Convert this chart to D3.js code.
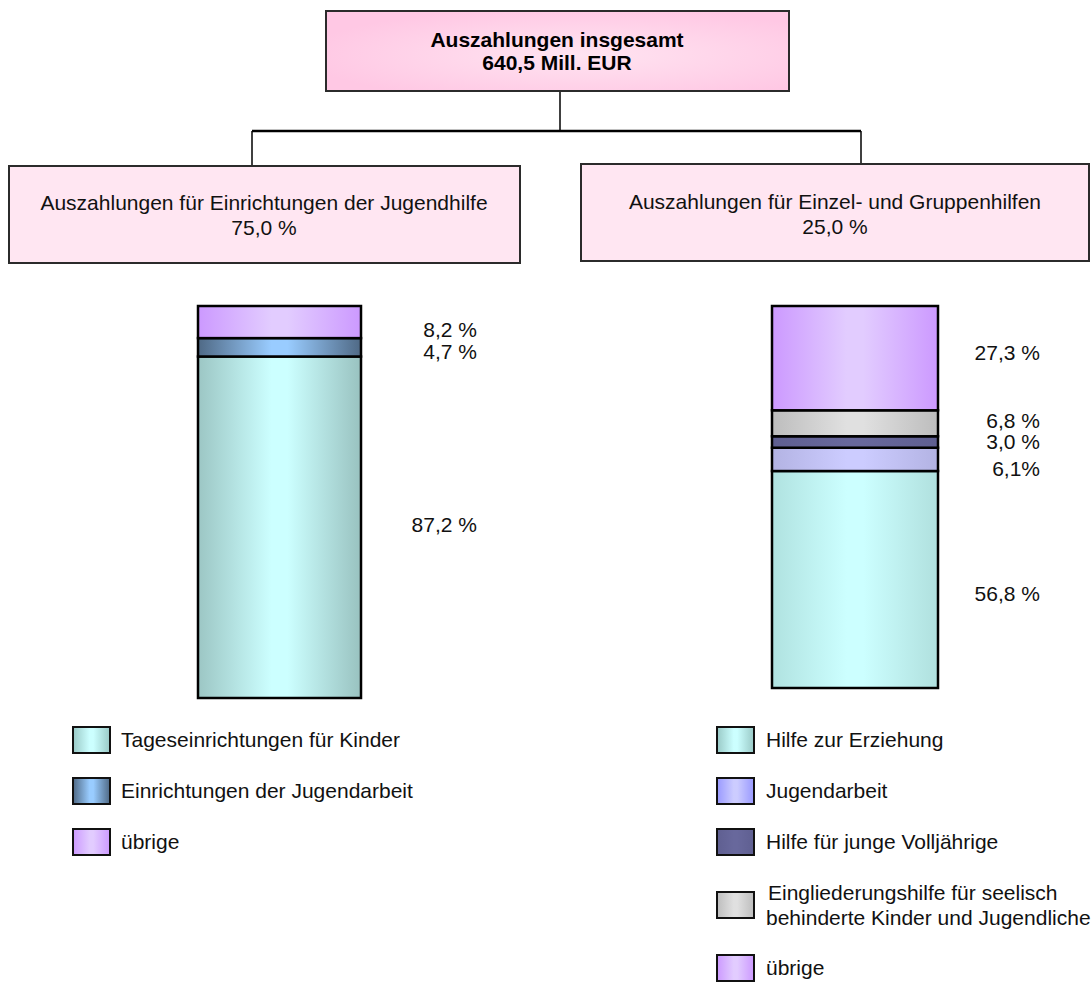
<!DOCTYPE html>
<html><head><meta charset="utf-8">
<script src="https://cdn.jsdelivr.net/npm/d3@7"></script>
<style>body{margin:0;background:#fff}svg{display:block;font-family:"Liberation Sans",Arial,sans-serif}</style>
</head><body><svg id="c" width="1091" height="983"></svg>
<script>
// ---------- data ----------
const totalTitle = ["Auszahlungen insgesamt", "640,5 Mill. EUR"];
const groupTitles = ["Auszahlungen für Einrichtungen der Jugendhilfe", "Auszahlungen für Einzel- und Gruppenhilfen"];
const groupShares = ["75,0 %", "25,0 %"];

const leftCategories = ["Tageseinrichtungen für Kinder", "Einrichtungen der Jugendarbeit", "übrige"];
const leftValues = [87.2, 4.7, 8.2];
const leftLabels = ["87,2 %", "4,7 %", "8,2 %"];

const rightCategories = ["Hilfe zur Erziehung", "Jugendarbeit", "Hilfe für junge Volljährige",
  "Eingliederungshilfe für seelisch\nbehinderte Kinder und Jugendliche", "übrige"];
const rightValues = [56.8, 6.1, 3.0, 6.8, 27.3];
const rightLabels = ["56,8 %", "6,1%", "3,0 %", "6,8 %", "27,3 %"];

// ---------- styles ----------
const gradDefs = {
  tealL: ["#9cc6c4", "#ccffff", "#99c2c0"],
  tealR: ["#b0e2e0", "#ccffff", "#b0e0de"],
  jaL:   ["#4f6985", "#99ccff", "#4f6985"],
  violet:["#cc99ff", "#e2ccff", "#cc99ff"],
  grey:  ["#bdbdbd", "#e0e0e0", "#bdbdbd"],
  dark:  ["#5f5f91", "#68689c", "#5f5f91"],
  jaR:   ["#b3b3e3", "#ccccff", "#b3b3e3"],
  jaLeg: ["#9999ff", "#ccccff", "#9999ff"],
  tealLeg: ["#99c9c6", "#ccffff", "#99c9c6"]
};
const leftFills = ["tealL", "jaL", "violet"];
const rightFills = ["tealR", "jaR", "dark", "grey", "violet"];
const leftLegFills = ["tealLeg", "jaL", "violet"];
const rightLegFills = ["tealLeg", "jaLeg", "dark", "grey", "violet"];

const svg = d3.select("#c");
const defs = svg.append("defs");
Object.entries(gradDefs).forEach(([k, c]) => {
  const g = defs.append("linearGradient").attr("id", "g-" + k).attr("x1", "0%").attr("x2", "100%");
  g.append("stop").attr("offset", "0%").attr("stop-color", c[0]);
  g.append("stop").attr("offset", "45%").attr("stop-color", c[1]);
  g.append("stop").attr("offset", "55%").attr("stop-color", c[1]);
  g.append("stop").attr("offset", "100%").attr("stop-color", c[2]);
});
const rg = defs.append("radialGradient").attr("id", "g-top").attr("cx", "55%").attr("cy", "55%").attr("r", "60%");
rg.append("stop").attr("offset", "0%").attr("stop-color", "#ffe4f1");
rg.append("stop").attr("offset", "100%").attr("stop-color", "#ffc8e4");

const FS = 21;

// ---------- header boxes ----------
svg.append("rect").attr("x", 326).attr("y", 11).attr("width", 463).attr("height", 80)
  .attr("fill", "url(#g-top)").attr("stroke", "#2b2b2b").attr("stroke-width", 2);
svg.append("text").attr("x", 557).attr("y", 40).attr("dy", "0.35em").attr("text-anchor", "middle")
  .attr("font-weight", "bold").attr("font-size", FS).text(totalTitle[0]);
svg.append("text").attr("x", 557).attr("y", 63).attr("dy", "0.35em").attr("text-anchor", "middle")
  .attr("font-weight", "bold").attr("font-size", FS).text(totalTitle[1]);

// connectors
const ln = (x1, y1, x2, y2, w) => svg.append("line").attr("x1", x1).attr("y1", y1).attr("x2", x2).attr("y2", y2)
  .attr("stroke", "#000").attr("stroke-width", w);
ln(560, 92, 560, 131, 1.5);
ln(252, 131, 861, 131, 2.5);
ln(252, 131, 252, 166, 1.5);
ln(861, 131, 861, 164, 1.5);

const subBoxes = [{x: 9, y: 166, w: 511, h: 97, cx: 264, ty: 203}, {x: 581, y: 164, w: 508, h: 97, cx: 835, ty: 202}];
subBoxes.forEach((b, i) => {
  svg.append("rect").attr("x", b.x).attr("y", b.y).attr("width", b.w).attr("height", b.h)
    .attr("fill", "#ffe6f2").attr("stroke", "#2b2b2b").attr("stroke-width", 2);
  svg.append("text").attr("x", b.cx).attr("y", b.ty).attr("dy", "0.35em").attr("text-anchor", "middle")
    .attr("font-size", FS).attr("fill", "#111").text(groupTitles[i]);
  svg.append("text").attr("x", b.cx).attr("y", b.ty + 25).attr("dy", "0.35em").attr("text-anchor", "middle")
    .attr("font-size", FS).attr("fill", "#111").text(groupShares[i]);
});

// ---------- stacked bars ----------
function drawBar(values, labels, fills, x0, x1, top, bottom, labelX, labelDy) {
  const total = d3.sum(values);
  const y = d3.scaleLinear().domain([0, total]).range([bottom, top]);
  const xs = d3.scaleBand().domain(["bar"]).range([x0, x1]).padding(0);
  const stacked = [];
  let acc = 0;
  values.forEach((v, i) => { stacked.push({v, i, y0: acc, y1: acc + v}); acc += v; });
  const g = svg.append("g");
  g.selectAll("rect.seg").data(stacked).join("rect").attr("class", "seg")
    .attr("x", xs("bar")).attr("width", xs.bandwidth())
    .attr("y", d => y(d.y1)).attr("height", d => y(d.y0) - y(d.y1))
    .attr("fill", d => "url(#g-" + fills[d.i] + ")")
    .attr("stroke", "#000").attr("stroke-width", 2.5);
  g.selectAll("text.lab").data(stacked).join("text").attr("class", "lab")
    .attr("x", labelX).attr("y", d => (y(d.y0) + y(d.y1)) / 2 + labelDy[d.i])
    .attr("dy", "0.35em").attr("text-anchor", "end").attr("font-size", FS).attr("fill", "#111")
    .text(d => labels[d.i]);
}
drawBar(leftValues, leftLabels, leftFills, 198, 361, 306, 698, 477, [-3, 4, 8]);
drawBar(rightValues, rightLabels, rightFills, 772, 938, 306, 688, 1040, [14, 9, 0, -3, -5]);

// ---------- legends ----------
function drawLegend(cats, fills, sx, tx, startY) {
  let yy = startY;
  cats.forEach((c, i) => {
    const lines = c.split("\n");
    const extra = lines.length > 1 ? 12 : 0;
    if (i > 0) yy += 51 + extra;
    const prevExtra = extra;
    svg.append("rect").attr("x", sx).attr("y", yy - 13).attr("width", 37).attr("height", 26)
      .attr("fill", "url(#g-" + fills[i] + ")").attr("stroke", "#111").attr("stroke-width", 2);
    lines.forEach((l, j) => {
      svg.append("text").attr("x", tx + (lines.length > 1 && j === 0 ? 2 : 0))
        .attr("y", yy + (lines.length > 1 ? (j === 0 ? -12 : 13) : 0))
        .attr("dy", "0.35em").attr("font-size", FS).attr("fill", "#111").text(l);
    });
    if (prevExtra) yy += prevExtra;
  });
}
drawLegend(leftCategories, leftLegFills, 73, 121, 740);
drawLegend(rightCategories, rightLegFills, 717, 766, 740);
</script>
</body></html>
